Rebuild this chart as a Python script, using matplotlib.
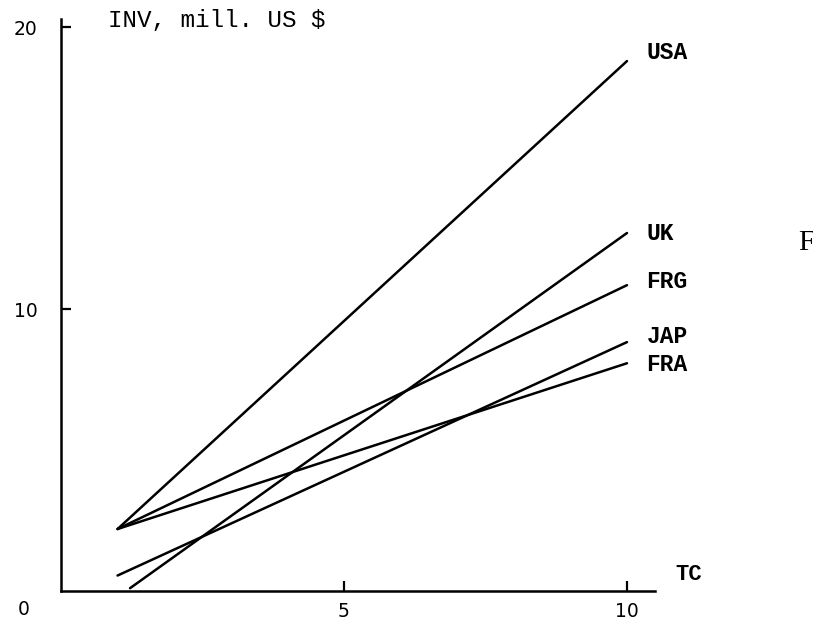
import matplotlib
matplotlib.use("Agg")
import matplotlib.pyplot as plt

# investment (mill. US $) against TC, straight-line fits per country
countries = ["USA", "UK", "FRG", "JAP", "FRA"]
tc_start = [1.0, 1.22, 1.0, 1.0, 1.0]
tc_end = [10.0, 10.0, 10.0, 10.0, 10.0]
inv_start = [2.2, 0.1, 2.2, 0.55, 2.2]
inv_end = [18.8, 12.7, 10.85, 8.83, 8.08]
label_dy = [6, 0, 3, 4, -1]  # vertical nudge of the end labels, points

x_ticks = [5, 10]
y_ticks = [10, 20]

MONO = "Liberation Mono"

fig = plt.figure(figsize=(8.13, 6.22), dpi=100)
ax = fig.add_axes([0.075, 0.0498, 0.731, 0.920])

for name, x0, x1, y0, y1, dy in zip(countries, tc_start, tc_end, inv_start, inv_end, label_dy):
    ax.plot([x0, x1], [y0, y1], color="black", lw=1.8, solid_capstyle="round")
    ax.annotate(name, xy=(x1, y1), xytext=(14, dy), textcoords="offset points",
                va="center", ha="left", family=MONO, weight="bold", fontsize=16.5,
                annotation_clip=False)

ax.set_xlim(0, 10.5)
ax.set_ylim(0, 20.3)

for side in ["top", "right"]:
    ax.spines[side].set_visible(False)
for side in ["left", "bottom"]:
    ax.spines[side].set_linewidth(1.8)

ax.set_xticks(x_ticks)
ax.set_yticks(y_ticks)
ax.tick_params(axis="both", direction="in", length=7, width=1.6, labelsize=13.5)
ax.tick_params(axis="y", pad=17)
ax.tick_params(axis="x", pad=8)

# the shared origin label sits off the corner
ax.annotate("0", xy=(0, 0), xytext=(-27, -13), textcoords="offset points",
            ha="center", va="center", fontsize=13.5, annotation_clip=False)

ax.text(0.83, 20.25, "INV, mill. US $", family=MONO, fontsize=17.5,
        ha="left", va="center", clip_on=False)
ax.text(10.85, 0.57, "TC", family=MONO, weight="bold", fontsize=16,
        ha="left", va="center", clip_on=False)

fig.text(798 / 813, 1 - 243 / 622, "F", family="Liberation Serif", fontsize=21,
         ha="left", va="center")

fig.savefig("out.png", dpi=100)
